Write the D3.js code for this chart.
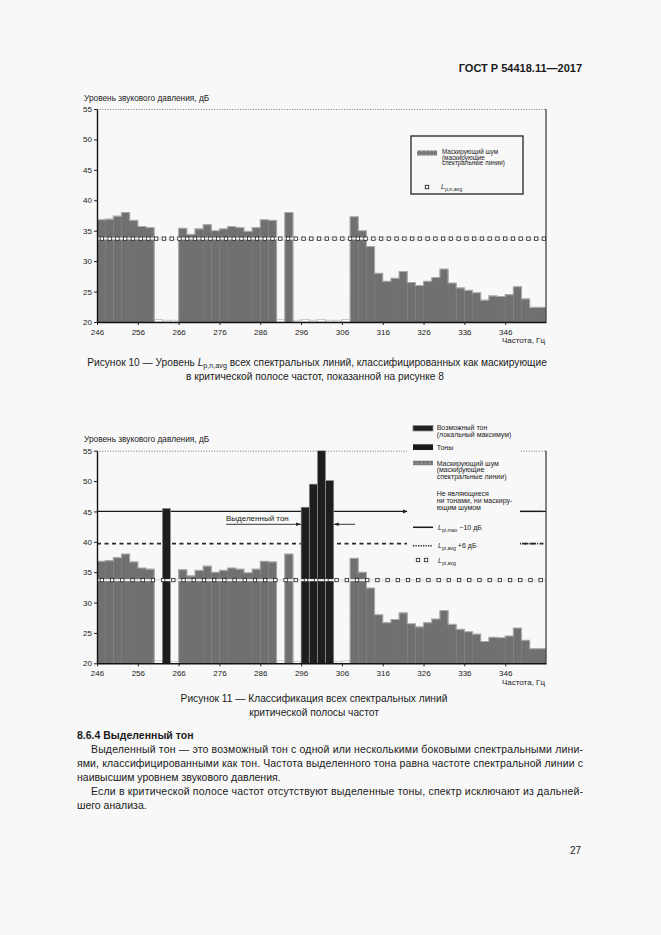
<!DOCTYPE html>
<html><head><meta charset="utf-8">
<script src="https://cdn.jsdelivr.net/npm/d3@7"></script>
<style>body{margin:0;background:#f8f8f8}svg{display:block}text{font-family:"Liberation Sans",Arial,sans-serif;fill:#1a1a1a}</style>
</head><body><svg id="c" width="661" height="935"></svg>
<script>
// ---------- data ----------
const xTicks=[246,256,266,276,286,296,306,316,326,336,346];
const yTicks=[20,25,30,35,40,45,50,55];
const maskFreq=[246,248,250,252,254,256,258,266,268,270,272,274,276,278,280,282,284,286,288,292,
308,310,312,314,316,318,320,322,324,326,328,330,332,334,336,338,340,342,344,346,348,350,352,354];
const maskLevel=[36.8,36.9,37.4,38.0,36.7,35.7,35.5,35.4,34.4,35.3,36.0,35.0,35.3,35.7,35.5,34.9,35.5,36.8,36.7,38.0,
37.3,35.0,32.4,28.0,26.7,27.2,28.3,26.5,26.0,26.7,27.3,28.7,26.4,25.6,25.2,24.8,23.6,24.3,24.2,24.5,25.8,23.8,22.4,22.4];
const toneFreq=[262,296,298,300,302];
const toneLevel=[45.5,45.7,49.5,56.0,50.1];
const otherFreqTop=[260,262,264,290,294,296,298,300,302,304,306];
const otherLevelTop=[20.4,20.3,20.3,20.4,20.3,20.4,20.3,20.4,20.3,20.3,20.4];
const otherFreqBottom=[260,264,290,294,304,306];
const otherLevelBottom=[20.4,20.3,20.4,20.3,20.3,20.4];
const lpnAvg=33.7, lpiAvg=33.7, lpiAvgPlus6=39.7, lpiMaxMinus10=45.0;
const binWidth=2;

const svg=d3.select('#c');
const BG='#f8f8f8';
svg.append('rect').attr('width',661).attr('height',935).attr('fill',BG);
const defs=svg.append('defs');
const pat=defs.append('pattern').attr('id','dots').attr('width',4).attr('height',3).attr('patternUnits','userSpaceOnUse');
pat.append('rect').attr('width',4).attr('height',3).attr('fill','#7a7a7a');
pat.append('rect').attr('x',1).attr('y',1).attr('width',1).attr('height',1).attr('fill','#b0b0b0');

function txt(g,x,y,s,size,opt={}){
  const t=g.append('text').attr('x',x).attr('y',y).attr('font-size',size).text(s);
  if(opt.anchor)t.attr('text-anchor',opt.anchor);
  if(opt.weight)t.attr('font-weight',opt.weight);
  if(opt.len)t.attr('textLength',opt.len).attr('lengthAdjust','spacing');
  return t;
}
function lsub(g,x,y,sub,tail,size){
  const t=g.append('text').attr('x',x).attr('y',y).attr('font-size',size);
  t.append('tspan').attr('font-style','italic').text('L');
  t.append('tspan').attr('font-size',size*0.75).attr('dy',size*0.3).text(sub);
  if(tail)t.append('tspan').attr('dy',-size*0.3).text(tail);
  return t;
}

function chart(id,top,bot,o){
  const x=d3.scaleLinear([246,356],[97,546]);
  const y=d3.scaleLinear([20,55],[bot,top]);
  const g=svg.append('g');
  defs.append('clipPath').attr('id',id).append('rect').attr('x',97).attr('y',top).attr('width',449).attr('height',bot-top);
  const pg=g.append('g').attr('clip-path',`url(#${id})`);
  pg.selectAll('.o').data(o.otherF.map((f,i)=>({f,l:o.otherL[i]}))).join('rect')
    .attr('x',d=>x(d.f)).attr('width',d=>x(d.f+binWidth)-x(d.f))
    .attr('y',d=>y(d.l)).attr('height',d=>y(20)-y(d.l))
    .attr('fill','#fbfbfb').attr('stroke','#b8b8b8').attr('stroke-width',0.7);
  if(o.lines){ o.lines(pg,x,y); }
  const md=maskFreq.map((f,i)=>({f,l:maskLevel[i]}));
  pg.selectAll('.m').data(md).join('rect')
    .attr('x',d=>x(d.f)).attr('width',d=>x(d.f+binWidth)-x(d.f)+0.3)
    .attr('y',d=>y(d.l)).attr('height',d=>y(20)-y(d.l)).attr('fill','#707070');
  const groups=[];let cur=[];
  md.forEach((d,i)=>{ if(i>0&&d.f!==md[i-1].f+binWidth){groups.push(cur);cur=[];} cur.push(d);});
  groups.push(cur);
  groups.forEach(gr=>{
    let p=`M${x(gr[0].f)},${y(20)}`;
    gr.forEach(d=>{p+=`V${y(d.l)}H${x(d.f+binWidth)}`;});
    p+=`V${y(20)}`;
    pg.append('path').attr('d',p).attr('fill','none').attr('stroke','#a9a9a9').attr('stroke-width',1.1);
  });
  if(o.tones){
    pg.selectAll('.t').data(toneFreq.map((f,i)=>({f,l:toneLevel[i]}))).join('rect')
      .attr('x',d=>x(d.f)).attr('width',d=>x(d.f+binWidth)-x(d.f))
      .attr('y',d=>y(d.l)).attr('height',d=>y(20)-y(d.l))
      .attr('fill','#1e1e1e').attr('stroke','#9a9a9a').attr('stroke-width',0.6);
  }
  const ya=y(o.avg);
  pg.append('line').attr('x1',97).attr('x2',546).attr('y1',ya).attr('y2',ya).attr('stroke','#cfcfcf').attr('stroke-width',2.2);
  pg.append('line').attr('x1',97).attr('x2',546).attr('y1',ya).attr('y2',ya).attr('stroke','#ffffff').attr('stroke-width',1);
  pg.selectAll('.sq').data(d3.range(247.2,356,o.step)).join('rect')
    .attr('x',d=>x(d)-1.7).attr('y',ya-1.7).attr('width',3.4).attr('height',3.4)
    .attr('fill','#fff').attr('stroke','#222').attr('stroke-width',0.8);
  g.append('line').attr('x1',97).attr('x2',546).attr('y1',top+0.5).attr('y2',top+0.5)
    .attr('stroke','#555').attr('stroke-width',0.8).attr('stroke-dasharray','1,1.6');
  g.append('line').attr('x1',546).attr('x2',546).attr('y1',top).attr('y2',bot).attr('stroke','#333').attr('stroke-width',1.2);
  const ax=g.append('g').attr('transform',`translate(0,${bot})`).call(d3.axisBottom(x).tickValues(xTicks).tickSize(3).tickPadding(4).tickSizeOuter(0));
  const ay=g.append('g').attr('transform',`translate(97,0)`).call(d3.axisLeft(y).tickValues(yTicks).tickSize(3).tickPadding(2).tickSizeOuter(0));
  [ax,ay].forEach(a=>{a.select('.domain').attr('stroke','#111').attr('stroke-width',1.4);
    a.selectAll('.tick line').attr('stroke','#222');
    a.selectAll('text').attr('font-size',8).attr('font-family','"Liberation Sans",Arial,sans-serif').attr('fill','#1a1a1a');});
  txt(g,84,o.titleY,'Уровень звукового давления, дБ',8.3);
  txt(g,545,o.xlabY,'Частота, Гц',8,{anchor:'end'});
  return {g,x,y};
}

// ---------- header ----------
txt(svg,582,72,'ГОСТ Р 54418.11—2017',11,{anchor:'end',weight:'bold'});

// ---------- chart 1 ----------
const c1=chart('cp1',109,322,{otherF:otherFreqTop,otherL:otherLevelTop,avg:lpnAvg,step:1.9,titleY:101,xlabY:342.5});
{
  const g=c1.g;
  g.append('rect').attr('x',411).attr('y',136).attr('width',112).attr('height',58).attr('fill',BG).attr('stroke','#222').attr('stroke-width',1.3);
  g.append('rect').attr('x',417).attr('y',150.5).attr('width',20).attr('height',5).attr('fill','url(#dots)');
  ['Маскирующий шум','(маскирующие','спектральные линии)'].forEach((s,i)=>txt(g,442,154+i*5.6,s,6.3));
  g.append('rect').attr('x',425.3).attr('y',185.3).attr('width',3.4).attr('height',3.4).attr('fill','#fff').attr('stroke','#222').attr('stroke-width',0.9);
  lsub(g,441,189,'p,n,avg','',7);
}
{
  const t=svg.append('text').attr('x',317).attr('y',366).attr('text-anchor','middle').attr('font-size',10.2);
  t.append('tspan').text('Рисунок 10 — Уровень ');
  t.append('tspan').attr('font-style','italic').text('L');
  t.append('tspan').attr('font-size',7.2).attr('dy',2).text('p,n,avg');
  t.append('tspan').attr('dy',-2).text(' всех спектральных линий, классифицированных как маскирующие');
  txt(svg,315,380,'в критической полосе частот, показанной на рисунке 8',10.2,{anchor:'middle'});
}

// ---------- chart 2 ----------
const c2=chart('cp2',450.7,663.3,{otherF:otherFreqBottom,otherL:otherLevelBottom,avg:lpiAvg,step:2.5,tones:true,titleY:442,xlabY:684.5,
  lines:(pg,x,y)=>{
    pg.append('line').attr('x1',97).attr('x2',546).attr('y1',y(lpiMaxMinus10)).attr('y2',y(lpiMaxMinus10)).attr('stroke','#1a1a1a').attr('stroke-width',1.3);
    pg.append('line').attr('x1',97).attr('x2',546).attr('y1',y(lpiAvgPlus6)).attr('y2',y(lpiAvgPlus6)).attr('stroke','#2a2a2a').attr('stroke-width',1.7).attr('stroke-dasharray','4,3.5');
  }});
{
  const g=c2.g, x=c2.x, y=c2.y;
  g.append('rect').attr('x',407).attr('y',413).attr('width',113).attr('height',154).attr('fill',BG);
  const yl=y(lpiMaxMinus10);
  g.append('path').attr('d',`M${403},${yl-2}L${407.5},${yl}L${403},${yl+2}Z`).attr('fill','#1a1a1a');
  g.append('line').attr('x1',520).attr('x2',543).attr('y1',yl).attr('y2',yl).attr('stroke','#1a1a1a').attr('stroke-width',1.3);
  g.append('line').attr('x1',522).attr('x2',538).attr('y1',y(lpiAvgPlus6)).attr('y2',y(lpiAvgPlus6)).attr('stroke','#2a2a2a').attr('stroke-width',1.7).attr('stroke-dasharray','4,3.5');
  const ya=524.3;
  txt(g,226,521,'Выделенный тон',8);
  g.append('line').attr('x1',226).attr('x2',x(296)).attr('y1',ya).attr('y2',ya).attr('stroke','#222').attr('stroke-width',0.9);
  g.append('path').attr('d',`M${x(296)-5},${ya-1.8}L${x(296)},${ya}L${x(296)-5},${ya+1.8}Z`).attr('fill','#222');
  g.append('line').attr('x1',x(304)).attr('x2',355).attr('y1',ya).attr('y2',ya).attr('stroke','#222').attr('stroke-width',0.9);
  g.append('path').attr('d',`M${x(304)+5},${ya-1.8}L${x(304)},${ya}L${x(304)+5},${ya+1.8}Z`).attr('fill','#222');
  const lx=436.7, fs=7;
  g.append('rect').attr('x',413).attr('y',425.5).attr('width',20).attr('height',5.5).attr('fill','#222').attr('stroke','#888').attr('stroke-width',0.8);
  txt(g,lx,429.5,'Возможный тон',fs); txt(g,lx,437,'(локальный максимум)',fs);
  g.append('rect').attr('x',413).attr('y',444.3).attr('width',20).attr('height',5.7).attr('fill','#1a1a1a');
  txt(g,lx,449.5,'Тоны',fs);
  g.append('rect').attr('x',413).attr('y',460.7).attr('width',20).attr('height',4.5).attr('fill','url(#dots)');
  ['Маскирующий шум','(маскирующие','спектральные линии)'].forEach((s,i)=>txt(g,lx,466+i*6.3,s,fs));
  ['Не являющиеся','ни тонами, ни маскиру-','ющим шумом'].forEach((s,i)=>txt(g,lx,496+i*7,s,fs));
  g.append('line').attr('x1',413).attr('x2',433).attr('y1',527.3).attr('y2',527.3).attr('stroke','#1a1a1a').attr('stroke-width',1.5);
  lsub(g,438,530,'pi,max',' −10 дБ',fs);
  g.append('line').attr('x1',413).attr('x2',433).attr('y1',545.7).attr('y2',545.7).attr('stroke','#2a2a2a').attr('stroke-width',1.4).attr('stroke-dasharray','1.3,1.2');
  lsub(g,438,548,'pi,avg',' +6 дБ',fs);
  [418,426].forEach(cx=>g.append('rect').attr('x',cx-1.7).attr('y',558.3).attr('width',3.4).attr('height',3.4).attr('fill','#fff').attr('stroke','#222').attr('stroke-width',0.8));
  lsub(g,438,562.5,'pi,avg','',fs);
}
txt(svg,314,702,'Рисунок 11 — Классификация всех спектральных линий',10.2,{anchor:'middle'});
txt(svg,314,716,'критической полосы частот',10.2,{anchor:'middle'});

// ---------- body text ----------
txt(svg,77,739,'8.6.4 Выделенный тон',10.5,{weight:'bold'});
txt(svg,91,753,'Выделенный тон — это возможный тон с одной или несколькими боковыми спектральными лини-',10.5,{len:492});
txt(svg,77,767,'ями, классифицированными как тон. Частота выделенного тона равна частоте спектральной линии с',10.5,{len:506});
txt(svg,77,781,'наивысшим уровнем звукового давления.',10.5);
txt(svg,91,795,'Если в критической полосе частот отсутствуют выделенные тоны, спектр исключают из дальней-',10.5,{len:492});
txt(svg,77,809,'шего анализа.',10.5);
txt(svg,581,854,'27',10,{anchor:'end'});
</script></body></html>
